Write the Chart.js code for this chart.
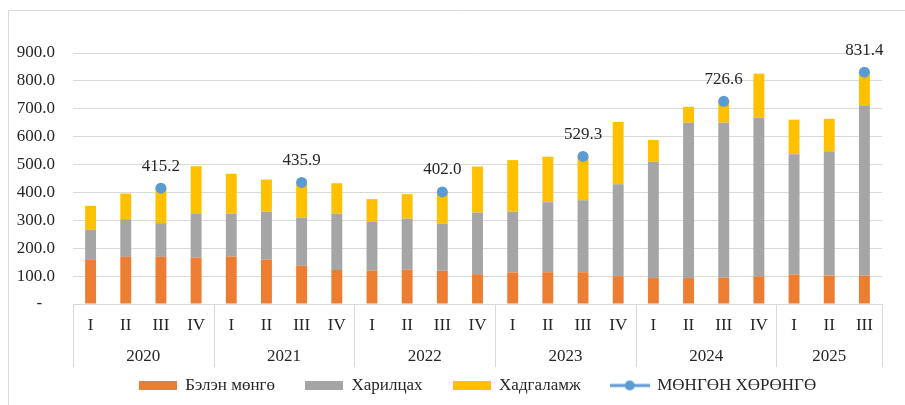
<!DOCTYPE html>
<html>
<head>
<meta charset="utf-8">
<script src="https://cdn.jsdelivr.net/npm/chart.js@4.4.0/dist/chart.umd.min.js"></script>
<style>
  html, body { margin: 0; padding: 0; background: #fff; }
  #wrap { width: 905px; height: 405px; }
</style>
</head>
<body>
<div id="wrap"><canvas id="grafico"></canvas></div>
<script>
// Өгөгдөл
const quarters = ['I','II','III','IV','I','II','III','IV','I','II','III','IV','I','II','III','IV','I','II','III','IV','I','II','III'];
const years = ['2020', '2021', '2022', '2023', '2024', '2025'];
const yearSizes = [4, 4, 4, 4, 4, 3];

const belenMongo = [158, 169, 169, 166, 170, 159, 137, 122, 120, 123, 119, 107, 113, 114, 114, 100, 93, 93, 94, 99, 106, 102, 101];
const khariltsakh = [108, 135, 121, 159, 154, 172, 173, 202, 174, 183, 169, 221, 218, 251, 258, 329, 417, 557, 556, 569, 431, 446, 612];
const khadgalamj = [86, 92, 125.2, 169, 143, 115, 125.9, 109, 82, 88, 114, 165, 185, 163, 157.3, 224, 78, 57, 76.6, 158, 124, 116, 118.4];
const mongonKhorongo = [null, null, 415.2, null, null, null, 435.9, null, null, null, 402.0, null, null, null, 529.3, null, null, null, 726.6, null, null, null, 831.4];

const yTicks = [0, 100, 200, 300, 400, 500, 600, 700, 800, 900];

const serif = "'Liberation Serif', 'Times New Roman', serif";
const textColor = '#262626';
const gridColor = '#d9d9d9';
const fontSize = 17;

// legend-ийн тэмдэгүүд
function boxImg(color) {
  const c = document.createElement('canvas');
  c.width = 38; c.height = 9;
  const g = c.getContext('2d');
  g.fillStyle = color;
  g.fillRect(0, 0, 38, 9);
  return c;
}
function lineImg(color) {
  const c = document.createElement('canvas');
  c.width = 40; c.height = 12;
  const g = c.getContext('2d');
  g.strokeStyle = color;
  g.lineWidth = 3;
  g.beginPath(); g.moveTo(0, 6); g.lineTo(40, 6); g.stroke();
  g.fillStyle = color;
  g.beginPath(); g.arc(20, 6, 5, 0, Math.PI * 2); g.fill();
  return c;
}

// жилийн нэр, хуваагч шугам
const yearGroups = {
  id: 'yearGroups',
  afterDraw(chart) {
    const ctx = chart.ctx;
    const x = chart.scales.x;
    const half = (x.getPixelForValue(1) - x.getPixelForValue(0)) / 2;
    const top = x.top;
    ctx.save();
    ctx.strokeStyle = gridColor;
    ctx.lineWidth = 1;
    ctx.fillStyle = textColor;
    ctx.font = fontSize + 'px ' + serif;
    ctx.textAlign = 'center';
    ctx.textBaseline = 'middle';
    let start = 0;
    years.forEach((y, i) => {
      const end = start + yearSizes[i] - 1;
      const x0 = x.getPixelForValue(start) - half;
      const x1 = x.getPixelForValue(end) + half;
      ctx.beginPath();
      ctx.moveTo(Math.round(x0) + 0.5, top);
      ctx.lineTo(Math.round(x0) + 0.5, top + 63);
      ctx.stroke();
      if (i === years.length - 1) {
        ctx.beginPath();
        ctx.moveTo(Math.round(x1) + 0.5, top);
        ctx.lineTo(Math.round(x1) + 0.5, top + 63);
        ctx.stroke();
      }
      ctx.fillText(y, (x0 + x1) / 2, top + 53);
      start = end + 1;
    });
    // гадна хүрээ
    ctx.beginPath();
    ctx.moveTo(8.5, 405);
    ctx.lineTo(8.5, 10.5);
    ctx.lineTo(905, 10.5);
    ctx.stroke();
    ctx.restore();
  }
};

// цэгийн утгууд
const pointLabels = {
  id: 'pointLabels',
  afterDatasetsDraw(chart) {
    const ctx = chart.ctx;
    const meta = chart.getDatasetMeta(3);
    ctx.save();
    ctx.fillStyle = textColor;
    ctx.font = fontSize + 'px ' + serif;
    ctx.textAlign = 'center';
    ctx.textBaseline = 'middle';
    meta.data.forEach((pt, i) => {
      const v = mongonKhorongo[i];
      if (v === null) return;
      ctx.fillText(v.toFixed(1), pt.x, pt.y - 22);
    });
    ctx.restore();
  }
};

const legendImgs = [boxImg('#ED7D31'), boxImg('#A5A5A5'), boxImg('#FFC000'), lineImg('#5B9BD5')];

new Chart(document.getElementById('grafico').getContext('2d'), {
  type: 'bar',
  data: {
    labels: quarters,
    datasets: [
      { label: 'Бэлэн мөнгө', data: belenMongo, backgroundColor: '#ED7D31', stack: 's', order: 2 },
      { label: 'Харилцах', data: khariltsakh, backgroundColor: '#A5A5A5', stack: 's', order: 2 },
      { label: 'Хадгаламж', data: khadgalamj, backgroundColor: '#FFC000', stack: 's', order: 2 },
      {
        type: 'line', label: 'МӨНГӨН ХӨРӨНГӨ', data: mongonKhorongo,
        borderColor: '#5B9BD5', backgroundColor: '#5B9BD5', showLine: false,
        pointRadius: 5.5, pointHoverRadius: 5.5, pointBorderWidth: 0, order: 1
      }
    ]
  },
  options: {
    responsive: true,
    maintainAspectRatio: false,
    animation: false,
    layout: { padding: { top: 53, left: 0, right: 23, bottom: 1 } },
    datasets: { bar: { barPercentage: 0.31, categoryPercentage: 1 } },
    scales: {
      x: {
        stacked: true,
        grid: { display: false, drawTicks: false },
        border: { display: true, color: gridColor },
        ticks: { color: textColor, font: { family: serif, size: fontSize }, padding: 11, maxRotation: 0, autoSkip: false },
        afterFit(scale) { scale.height = 43; }
      },
      y: {
        stacked: true,
        min: 0,
        max: 900,
        afterBuildTicks(scale) { scale.ticks = yTicks.map(v => ({ value: v })); },
        grid: { color: gridColor, drawTicks: false },
        border: { display: false },
        ticks: {
          color: textColor,
          font: { family: serif, size: fontSize },
          padding: 18,
          callback: v => v === 0 ? '-   ' : v.toFixed(1)
        },
        afterFit(scale) { scale.width = 73; }
      }
    },
    plugins: {
      legend: {
        position: 'bottom',
        fullSize: false,
        labels: {
          color: textColor,
          font: { family: serif, size: fontSize },
          usePointStyle: true,
          pointStyleWidth: 38,
          padding: 30,
          sort: (a, b) => a.datasetIndex - b.datasetIndex,
          generateLabels(chart) {
            const items = Chart.defaults.plugins.legend.labels.generateLabels(chart);
            items.forEach(it => { it.pointStyle = legendImgs[it.datasetIndex]; });
            return items;
          }
        }
      },
      tooltip: { enabled: false }
    }
  },
  plugins: [yearGroups, pointLabels]
});
</script>
</body>
</html>
